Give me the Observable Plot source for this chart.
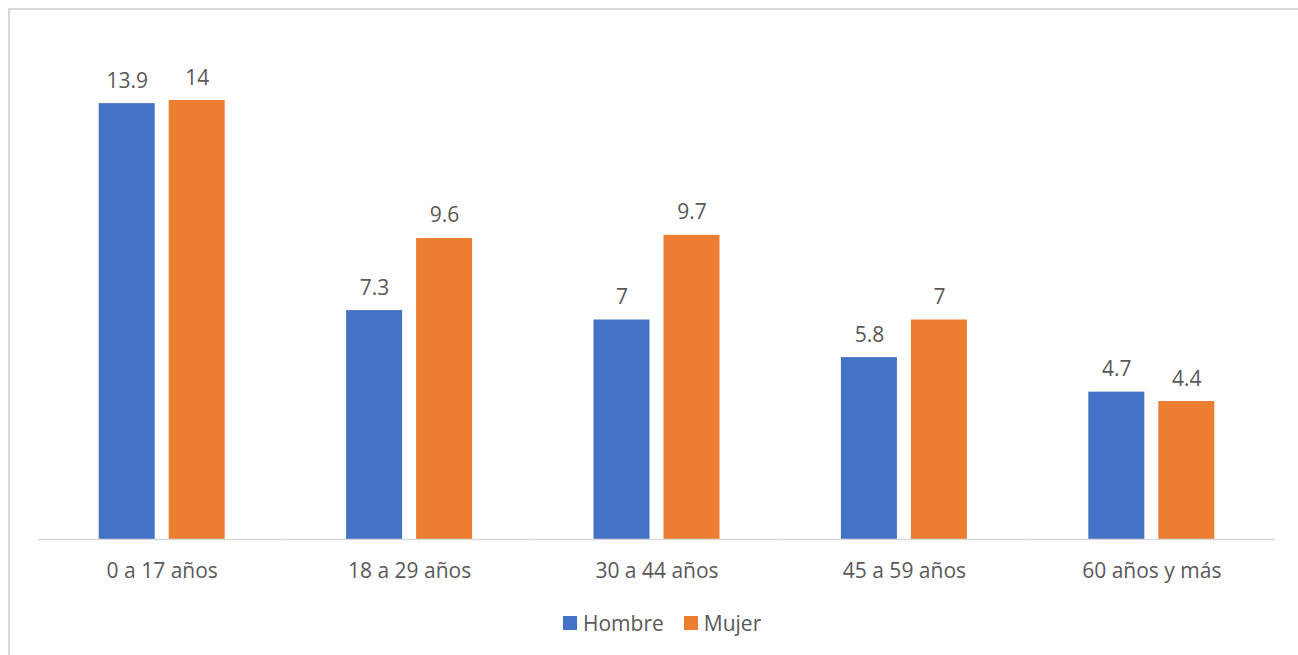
<!DOCTYPE html>
<html>
<head>
<meta charset="utf-8">
<script src="https://cdn.jsdelivr.net/npm/d3@7"></script>
<script src="https://cdn.jsdelivr.net/npm/@observablehq/plot@0.6"></script>
<style>
  html, body { margin: 0; padding: 0; background: #fff; width: 1298px; height: 655px; overflow: hidden; }
  #frame { position: absolute; left: 8px; top: 8px; width: 1400px; height: 800px; border-top: 2px solid #d9d9d9; border-left: 2px solid #d9d9d9; box-sizing: border-box; }
  #chart { position: absolute; left: 0; top: 0; }
  #legend { position: absolute; top: 609px; left: 563px; display: flex; align-items: center; font-family: "Open Sans", sans-serif; font-size: 21px; color: #595959; }
  .sw { width: 14px; height: 14px; display: inline-block; margin-right: 6px; }
  .item { display: flex; align-items: center; margin-right: 20px; }
</style>
</head>
<body>
<div id="frame"></div>
<div id="chart"></div>
<div id="legend"></div>
<script>
const groups = ["0 a 17 años", "18 a 29 años", "30 a 44 años", "45 a 59 años", "60 años y más"];
const series = ["Hombre", "Mujer"];
const hombre = [13.9, 7.3, 7, 5.8, 4.7];
const mujer = [14, 9.6, 9.7, 7, 4.4];
const colors = ["#4472C4", "#ED7D31"];

const data = groups.flatMap((g, i) => [
  {group: g, sex: series[0], value: hombre[i]},
  {group: g, sex: series[1], value: mujer[i]}
]);

const chart = Plot.plot({
  width: 1298,
  height: 600,
  marginLeft: 38,
  marginRight: 23,
  marginTop: 100,
  marginBottom: 61,
  style: {fontFamily: "Open Sans, sans-serif", fontSize: "21px", color: "#595959", background: "transparent", overflow: "visible"},
  fx: {domain: groups, padding: 0, round: false, label: null, tickSize: 0, tickPadding: 24, axis: "bottom"},
  x: {domain: series, paddingInner: 0.2, paddingOuter: 0.867, round: false, axis: null},
  y: {domain: [0, 14], axis: null},
  color: {domain: series, range: colors},
  marks: [
    Plot.barY(data, {fx: "group", x: "sex", y: "value", fill: "sex"}),
    Plot.ruleY([0], {stroke: "#d9d9d9", strokeWidth: 1.5}),
    Plot.text(data, {fx: "group", x: "sex", y: "value", text: d => String(d.value), lineAnchor: "bottom", dy: -16, fill: "#595959", fontSize: 21})
  ]
});
document.getElementById("chart").appendChild(chart);

const legend = document.getElementById("legend");
series.forEach((s, i) => {
  const item = document.createElement("div");
  item.className = "item";
  const sw = document.createElement("span");
  sw.className = "sw";
  sw.style.background = colors[i];
  const t = document.createElement("span");
  t.textContent = s;
  item.appendChild(sw);
  item.appendChild(t);
  legend.appendChild(item);
});
</script>
</body>
</html>
